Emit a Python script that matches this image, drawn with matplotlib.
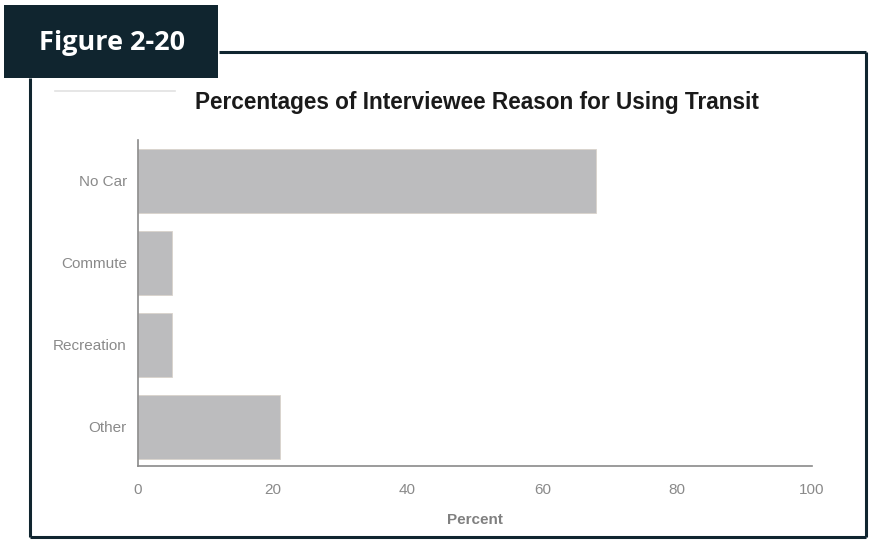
import matplotlib.pyplot as plt
from matplotlib.patches import Rectangle
from matplotlib.lines import Line2D

categories = ["No Car", "Commute", "Recreation", "Other"]
percents = [68, 5, 5, 21]
x_ticks = [0, 20, 40, 60, 80, 100]

W, H = 870, 541
fig = plt.figure(figsize=(W / 100, H / 100), dpi=100)
fig.patch.set_facecolor("white")

def fx(px):
    return px / W

def fy(py):
    return 1 - py / H

dark = "#10252f"

# outer frame
frame_kw = dict(color=dark, lw=2.2, transform=fig.transFigure, solid_capstyle="butt")
fig.add_artist(Line2D([fx(30), fx(30)], [fy(78), fy(537)], **frame_kw))
fig.add_artist(Line2D([fx(30), fx(866)], [fy(537), fy(537)], **frame_kw))
fig.add_artist(Line2D([fx(866), fx(866)], [fy(52), fy(537)], **frame_kw))
fig.add_artist(Line2D([fx(219), fx(866)], [fy(52), fy(52)], **frame_kw))

# figure label box
fig.add_artist(Rectangle((fx(4), fy(78)), fx(218) - fx(4), fy(5) - fy(78),
                         transform=fig.transFigure, facecolor=dark, edgecolor="none"))
fig.text(fx(112), fy(43), "Figure 2-20", color="white", fontsize=19.5,
         fontweight="bold", family="Open Sans", ha="center", va="center")

# faint rule at top-left of the chart area
fig.add_artist(Line2D([fx(55), fx(175)], [fy(91), fy(91)], color="#e2e2e2", lw=1.2,
                      transform=fig.transFigure))

ax = fig.add_axes([fx(138), fy(466), fx(812) - fx(138), fy(140) - fy(466)])
ypos = list(range(len(categories)))
ax.barh(ypos, percents, height=0.78, color="#bcbcbe", edgecolor="#d9d3cc", linewidth=0.6)
ax.set_xlim(0, 100)
ax.set_ylim(3.48, -0.5)
ax.set_yticks(ypos)
ax.set_yticklabels(categories)
ax.set_xticks(x_ticks)
ax.set_xticklabels([str(t) for t in x_ticks])

for s in ["top", "right"]:
    ax.spines[s].set_visible(False)
for s in ["left", "bottom"]:
    ax.spines[s].set_color("#8a8a8a")
    ax.spines[s].set_linewidth(1.2)

ax.tick_params(axis="both", length=0, colors="#8a8a8a", labelsize=11)
ax.tick_params(axis="x", pad=12)
ax.tick_params(axis="y", pad=8)
for lbl in ax.get_xticklabels() + ax.get_yticklabels():
    lbl.set_family("Liberation Sans")

ax.set_xlabel("Percent", color="#808080", fontsize=11, fontweight="bold",
              family="Liberation Sans", labelpad=12)

fig.text(fx(477), fy(103), "Percentages of Interviewee Reason for Using Transit",
         ha="center", va="center", fontsize=16.3, fontweight="bold",
         family="Liberation Sans", color="#1a1a1a")

fig.savefig("out.png", dpi=100, facecolor="white")
